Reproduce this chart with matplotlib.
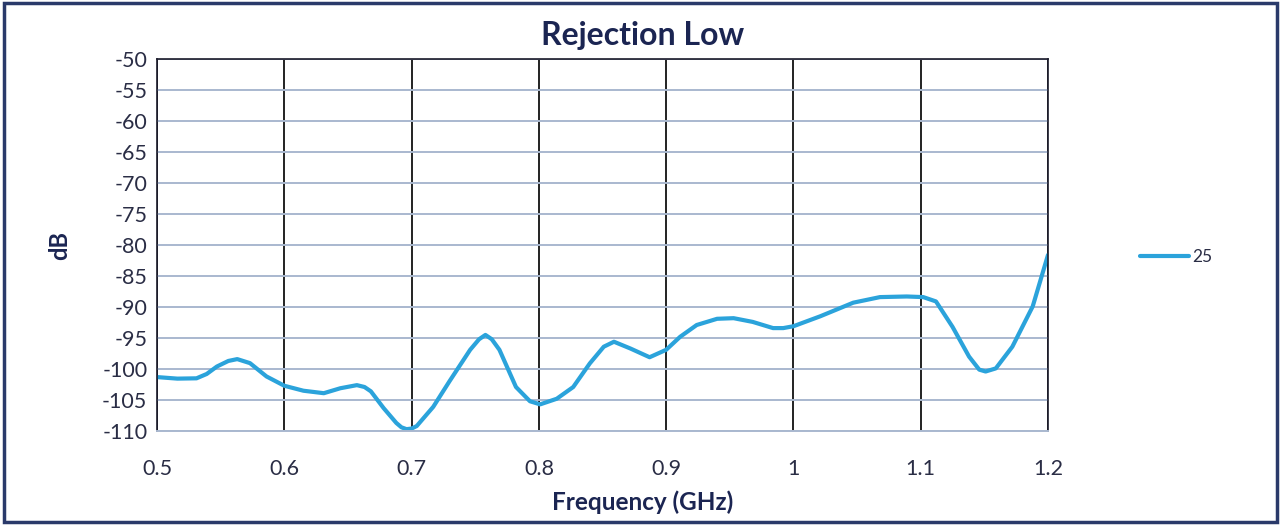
import matplotlib
matplotlib.use("Agg")
import matplotlib.pyplot as plt
from matplotlib.patches import Rectangle

plt.rcParams['font.family'] = ['Lato', 'DejaVu Sans']
plt.rcParams['axes.unicode_minus'] = False

# frequency (GHz) and rejection (dB)
freq = [0.500, 0.516, 0.531, 0.539, 0.547, 0.556, 0.563, 0.573, 0.586, 0.600,
        0.615, 0.631, 0.644, 0.657, 0.663, 0.668, 0.678, 0.688, 0.692, 0.696,
        0.700, 0.704, 0.717, 0.730, 0.746, 0.753, 0.758, 0.763, 0.769, 0.782,
        0.793, 0.801, 0.814, 0.827, 0.840, 0.851, 0.859, 0.872, 0.887, 0.900,
        0.911, 0.924, 0.940, 0.953, 0.968, 0.984, 0.992, 1.000, 1.021, 1.047,
        1.068, 1.089, 1.102, 1.112, 1.125, 1.138, 1.146, 1.151, 1.159, 1.172,
        1.188, 1.200]
rej = [-101.3, -101.55, -101.5, -100.8, -99.6, -98.7, -98.4, -99.05, -101.2, -102.7,
       -103.5, -103.9, -103.1, -102.6, -102.9, -103.6, -106.3, -108.7, -109.4, -109.7,
       -109.6, -109.2, -106.1, -101.9, -96.9, -95.2, -94.5, -95.2, -96.9, -102.9,
       -105.2, -105.7, -104.8, -102.9, -99.1, -96.4, -95.6, -96.7, -98.1, -96.9,
       -94.8, -92.9, -91.9, -91.8, -92.4, -93.4, -93.4, -93.1, -91.5, -89.3,
       -88.4, -88.3, -88.4, -89.1, -93.2, -98.0, -100.1, -100.4, -99.9, -96.4,
       -89.9, -81.6]
series_name = "25"

xticks = [0.5, 0.6, 0.7, 0.8, 0.9, 1.0, 1.1, 1.2]
xticklabels = ["0.5", "0.6", "0.7", "0.8", "0.9", "1", "1.1", "1.2"]
yticks = list(range(-110, -45, 5))

navy = "#1b2552"
tickc = "#2a2d45"

fig = plt.figure(figsize=(12.81, 5.25), dpi=100)
ax = fig.add_axes([0.1226, 0.179, 0.6955, 0.7086])

ax.plot(freq, rej, color="#2ba3db", lw=3.0, label=series_name,
        solid_capstyle="round", solid_joinstyle="round")

ax.set_xlim(0.5, 1.2)
ax.set_ylim(-110, -50)
ax.set_xticks(xticks)
ax.set_xticklabels(xticklabels)
ax.set_yticks(yticks)

ax.grid(axis="x", color="#111111", lw=1.3)
ax.grid(axis="y", color="#a9b8cf", lw=1.4)
ax.set_axisbelow(True)

for s in ["top", "left", "right"]:
    ax.spines[s].set_color("#1a1a2a")
    ax.spines[s].set_linewidth(1.2)
ax.spines["bottom"].set_color("#a9b8cf")
ax.spines["bottom"].set_linewidth(1.4)

ax.tick_params(axis="both", length=0, labelsize=15.5, colors=tickc)
ax.tick_params(axis="x", pad=20)
ax.tick_params(axis="y", pad=7)

# title and x label are centred on the whole chart, not the plot area
ax.set_title("Rejection Low", fontsize=23, fontweight="bold", color=navy, pad=10, x=0.545)
ax.set_xlabel("Frequency (GHz)", fontsize=17.5, fontweight="bold", color=navy,
              labelpad=8, x=0.545)
ax.set_ylabel("dB", fontsize=17, fontweight="bold", color=navy, labelpad=22)

ax.legend(loc="center left", bbox_to_anchor=(0.878, 0.51), bbox_transform=fig.transFigure,
          frameon=False, fontsize=12.5, handlelength=2.8, handletextpad=0.2,
          labelcolor=tickc)

# outer frame of the chart
fig.patches.append(Rectangle((0.003, 0.006), 0.994, 0.988, transform=fig.transFigure,
                             fill=False, edgecolor="#2a3a6a", lw=2.5))

fig.savefig("out.png", dpi=100)
